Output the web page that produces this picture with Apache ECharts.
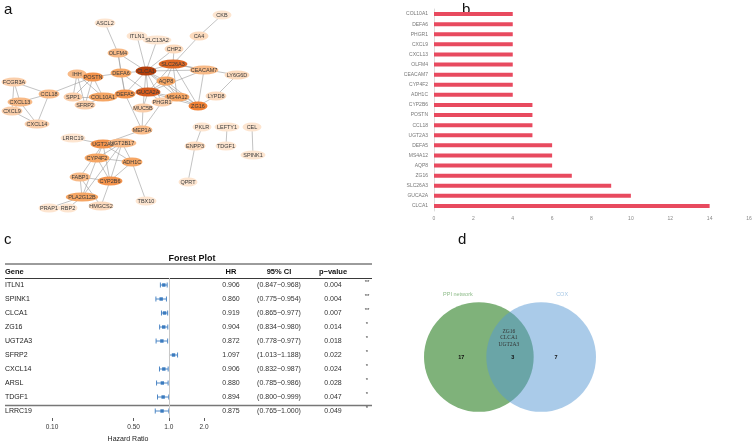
<!DOCTYPE html>
<html><head><meta charset="utf-8">
<script src="https://cdn.jsdelivr.net/npm/echarts@6/dist/echarts.min.js"></script>
<style>html,body{margin:0;padding:0;background:#fff}#c{width:755px;height:444px}</style>
</head><body><div id="c"></div>
<script>
// ---------- (a) PPI network ----------
var nodeNames = ['ASCL2','CKB','ITLN1','SLC13A2','CA4','CHP2','OLFM4','SLC26A3','CLCA1','CEACAM7','LY6G6D','IHH','POSTN','DEFA6','AQP8','FCGR3A','CCL18','DEFA5','GUCA2A','MS4A12','LYPD8','SPP1','COL10A1','PHGR1','ZG16','CXCL13','CXCL9','SFRP2','MUC5B','CXCL14','MEP1A','PKLR','LEFTY1','CEL','LRRC19','UGT2A3','UGT2B17','ENPP3','TDGF1','SPINK1','CYP4F2','ADH1C','FABP1','CYP2B6','QPRT','PLA2G12B','TBX10','PRAP1','RBP2','HMGCS2'];
var nodeX = [105,222,137,157,199,174,118,173,146,204,237,77,93,121,166,14,49,125,148,177,216,73,103,162,198,20,12,85,143,37,142,202,227,252,73,103,122,195,226,253,97,132,80,110,188,82,146,49,68,101];
var nodeY = [23,15,36,40,36,49,53,64,71,70,75,74,77,73,81,82,94,94,92,97,96,97,97,102,106,102,111,105,108,124,130,127,127,127,138,144,143,146,146,155,158,162,177,181,182,197,201,208,208,206];
var edgeFrom = ['ASCL2','CKB','CA4','ITLN1','SLC13A2','CHP2','CHP2','OLFM4','OLFM4','OLFM4','CLCA1','CLCA1','CLCA1','CLCA1','CLCA1','CLCA1','CLCA1','CLCA1','CLCA1','CLCA1','GUCA2A','GUCA2A','GUCA2A','GUCA2A','GUCA2A','GUCA2A','GUCA2A','GUCA2A','GUCA2A','SLC26A3','SLC26A3','SLC26A3','SLC26A3','SLC26A3','AQP8','AQP8','MS4A12','CEACAM7','ZG16','LYPD8','DEFA6','DEFA6','DEFA5','DEFA5','MUC5B','PHGR1','MEP1A','IHH','IHH','IHH','IHH','POSTN','POSTN','POSTN','POSTN','SPP1','SFRP2','FCGR3A','FCGR3A','FCGR3A','CXCL13','CXCL13','CXCL13','CXCL9','CCL18','LRRC19','UGT2A3','UGT2A3','UGT2A3','UGT2A3','UGT2B17','UGT2B17','UGT2B17','UGT2B17','CYP4F2','CYP4F2','CYP4F2','ADH1C','ADH1C','FABP1','FABP1','FABP1','CYP2B6','PLA2G12B','PLA2G12B','PKLR','ENPP3','LEFTY1','CEL'];
var edgeTo   = ['OLFM4','CA4','SLC26A3','CLCA1','CLCA1','SLC26A3','CLCA1','CLCA1','DEFA6','DEFA5','SLC26A3','DEFA6','GUCA2A','AQP8','MS4A12','ZG16','DEFA5','PHGR1','MUC5B','CEACAM7','SLC26A3','AQP8','MS4A12','ZG16','DEFA5','DEFA6','PHGR1','MUC5B','CEACAM7','AQP8','MS4A12','ZG16','CEACAM7','LY6G6D','ZG16','MS4A12','ZG16','ZG16','LYPD8','LY6G6D','DEFA5','POSTN','COL10A1','MEP1A','MEP1A','MEP1A','UGT2A3','POSTN','SPP1','SFRP2','COL10A1','SPP1','SFRP2','COL10A1','CCL18','COL10A1','COL10A1','CCL18','CXCL13','CXCL9','CCL18','CXCL9','CXCL14','CXCL14','CXCL14','UGT2A3','CYP4F2','FABP1','CYP2B6','ADH1C','CYP4F2','CYP2B6','ADH1C','PLA2G12B','ADH1C','CYP2B6','PLA2G12B','TBX10','CYP2B6','PLA2G12B','CYP2B6','HMGCS2','HMGCS2','RBP2','PRAP1','ENPP3','QPRT','TDGF1','SPINK1'];

// ---------- (b) degree bar chart ----------
var barGenes = ['COL10A1','DEFA6','PHGR1','CXCL9','CXCL13','OLFM4','CEACAM7','CYP4F2','ADH1C','CYP2B6','POSTN','CCL18','UGT2A3','DEFA5','MS4A12','AQP8','ZG16','SLC26A3','GUCA2A','CLCA1'];
var barValues = [4,4,4,4,4,4,4,4,4,5,5,5,5,6,6,6,7,9,10,14];

// ---------- (c) forest plot ----------
var forestGenes = ['ITLN1','SPINK1','CLCA1','ZG16','UGT2A3','SFRP2','CXCL14','ARSL','TDGF1','LRRC19'];
var forestHR = [0.906,0.860,0.919,0.904,0.872,1.097,0.906,0.880,0.894,0.875];
var forestLow = [0.847,0.775,0.865,0.834,0.778,1.013,0.832,0.785,0.800,0.765];
var forestHigh = [0.968,0.954,0.977,0.980,0.977,1.188,0.987,0.986,0.999,1.000];
var forestP = ['0.004','0.004','0.007','0.014','0.018','0.022','0.024','0.028','0.047','0.049'];
var forestStars = ['**','**','**','*','*','*','*','*','*','*'];
var forestTicks = [0.10,0.50,1.0,2.0];
var forestTickLabels = ['0.10','0.50','1.0','2.0'];

// ---------- (d) Venn ----------
var vennSets = ['PPI network','COX'];
var vennOnly = [17,7];
var vennShared = 3;
var vennSharedGenes = ['ZG16','CLCA1','UGT2A3'];

var FONT = 'Liberation Sans';

// degree-based node colour
var deg = {};
nodeNames.forEach(function(n){deg[n]=0;});
edgeFrom.forEach(function(f,i){deg[f]++;deg[edgeTo[i]]++;});
function lerp(a,b,t){return [0,1,2].map(function(k){return Math.round(a[k]+(b[k]-a[k])*t);});}
function degColor(d){
  var stops=[[1,[253,229,208]],[3,[250,206,170]],[5,[246,166,100]],[7,[240,128,52]],[10,[214,92,30]],[14,[180,62,10]]];
  for(var i=0;i<stops.length-1;i++){
    if(d<=stops[i+1][0]){var t=Math.max(0,(d-stops[i][0])/(stops[i+1][0]-stops[i][0]));var c=lerp(stops[i][1],stops[i+1][1],t);return 'rgb('+c.join(',')+')';}
  }
  return 'rgb(180,62,10)';
}
var graphNodes = nodeNames.map(function(n,i){
  return {name:n,value:[nodeX[i],nodeY[i]],symbolSize:[Math.max(19,3.8*n.length+2),9],itemStyle:{color:degColor(deg[n])}};
});
var graphLinks = edgeFrom.map(function(f,i){return {source:f,target:edgeTo[i]};});

var L10 = function(v){return Math.log(v)/Math.LN10;};
var forestData = forestGenes.map(function(g,i){return [L10(forestLow[i]),L10(forestHigh[i]),L10(forestHR[i]),i];});
var forestCI = forestLow.map(function(l,i){return '('+l.toFixed(3)+'\u2212'+forestHigh[i].toFixed(3)+')';});

var vennCircles = [[-0.568,0,1,'#7fb27a'],[0.568,0,1,'rgba(85,151,211,0.5)']];
var vennTexts = [
  [-0.89,0,String(vennOnly[0]),'bold','#111',FONT],
  [0.05,0,String(vennShared),'bold','#111',FONT],
  [0.84,0,String(vennOnly[1]),'bold','#111',FONT],
  [-0.95,-1.13,vennSets[0],'normal','#8dbb88',FONT],
  [0.95,-1.13,vennSets[1],'normal','#a6c8e6',FONT]
].concat(vennSharedGenes.map(function(g,i){return [-0.02,-0.47+i*0.12,g,'normal','#333','Liberation Serif'];}));

var letter = function(t,x,y){return {type:'text',left:x,top:y,style:{text:t,font:'15px '+FONT,fill:'#111'}};};
var FS = 7;

var option = {
  backgroundColor:'#fff',
  animation:false,
  textStyle:{fontFamily:FONT},
  title:[{text:'Forest Plot',left:187,top:249,textAlign:'center',textStyle:{fontSize:9,fontWeight:'bold',color:'#111',fontFamily:FONT}}],
  grid:[
    {left:0,top:0,width:260,height:215},
    {left:434,right:6,top:9,height:202},
    {left:52,top:278,width:152,height:141.7},
    {left:424,top:291,width:172,height:121}
  ],
  xAxis:[
    {gridIndex:0,type:'value',min:0,max:260,show:false},
    {gridIndex:1,type:'value',min:0,max:16,interval:2,axisLine:{show:false},axisTick:{show:false},splitLine:{show:false},
      axisLabel:{fontSize:5,color:'#888',margin:5}},
    {gridIndex:2,type:'value',min:-1,max:L10(2),axisLine:{lineStyle:{color:'#333',width:0.8}},
      axisTick:{show:true,length:3,lineStyle:{color:'#333',width:0.8},customValues:forestTicks.map(L10)},
      axisLabel:{fontSize:6.5,color:'#333',margin:6,customValues:forestTicks.map(L10),formatter:function(v){var i=forestTicks.map(L10).findIndex(function(t){return Math.abs(t-v)<1e-6;});return i>=0?forestTickLabels[i]:'';}},
      splitLine:{show:false},name:'Hazard Ratio',nameLocation:'middle',nameGap:18,nameTextStyle:{fontSize:7,color:'#222'}},
    {gridIndex:3,type:'value',min:-1.568,max:1.568,show:false}
  ],
  yAxis:[
    {gridIndex:0,type:'value',min:0,max:215,inverse:true,show:false},
    {gridIndex:1,type:'category',data:barGenes,inverse:true,axisLine:{lineStyle:{color:'#ddd'}},axisTick:{show:false},
      axisLabel:{fontSize:5,color:'#777',margin:6}},
    {gridIndex:2,type:'category',data:forestGenes,inverse:true,axisLine:{show:false},axisTick:{show:false},
      axisLabel:{fontSize:FS,color:'#222',margin:47,align:'left'}},
    {gridIndex:2,type:'category',data:forestHR.map(function(v){return v.toFixed(3);}),inverse:true,position:'right',axisLine:{show:false},axisTick:{show:false},axisLabel:{fontSize:FS,color:'#333',margin:27,align:'center'}},
    {gridIndex:2,type:'category',data:forestCI,inverse:true,position:'right',axisLine:{show:false},axisTick:{show:false},axisLabel:{fontSize:FS,color:'#333',margin:75,align:'center'}},
    {gridIndex:2,type:'category',data:forestP,inverse:true,position:'right',axisLine:{show:false},axisTick:{show:false},axisLabel:{fontSize:FS,color:'#333',margin:129,align:'center'}},
    {gridIndex:2,type:'category',data:forestStars,inverse:true,position:'right',axisLine:{show:false},axisTick:{show:false},axisLabel:{fontSize:6,color:'#333',margin:163,align:'center',verticalAlign:'bottom'}},
    {gridIndex:3,type:'value',min:-1.2,max:1,inverse:true,show:false}
  ],
  series:[
    {type:'graph',coordinateSystem:'cartesian2d',xAxisIndex:0,yAxisIndex:0,layout:'none',z:3,
      data:graphNodes,links:graphLinks,symbol:'circle',
      label:{show:true,position:'inside',fontSize:5.5,color:'#3a3a3a',fontFamily:FONT},
      lineStyle:{color:'#9a9a9a',width:0.6,opacity:1,curveness:0},
      emphasis:{disabled:true}},
    {type:'bar',xAxisIndex:1,yAxisIndex:1,data:barValues,barWidth:4,itemStyle:{color:'#e84a5f'}},
    {type:'custom',xAxisIndex:2,yAxisIndex:2,data:forestData,
      renderItem:function(params,api){
        var lo=api.coord([api.value(0),api.value(3)]);
        var hi=api.coord([api.value(1),api.value(3)]);
        var pt=api.coord([api.value(2),api.value(3)]);
        var c='#3b7bbf';
        return {type:'group',children:[
          {type:'line',shape:{x1:lo[0],y1:lo[1],x2:hi[0],y2:hi[1]},style:{stroke:c,lineWidth:0.9}},
          {type:'line',shape:{x1:lo[0],y1:lo[1]-2.5,x2:lo[0],y2:lo[1]+2.5},style:{stroke:c,lineWidth:0.9}},
          {type:'line',shape:{x1:hi[0],y1:hi[1]-2.5,x2:hi[0],y2:hi[1]+2.5},style:{stroke:c,lineWidth:0.9}},
          {type:'rect',shape:{x:pt[0]-1.7,y:pt[1]-1.7,width:3.4,height:3.4},style:{fill:c}}
        ]};
      },
      markLine:{silent:true,symbol:'none',label:{show:false},lineStyle:{color:'#c8c8c8',width:1,type:'solid'},data:[{xAxis:0}]},
      z:3},
    {type:'custom',xAxisIndex:3,yAxisIndex:7,data:vennCircles,
      renderItem:function(params,api){
        var c=api.coord([api.value(0),api.value(1)]);
        var r=api.size([api.value(2),0])[0];
        return {type:'circle',shape:{cx:c[0],cy:c[1],r:r},style:{fill:vennCircles[params.dataIndex][3]}};
      }},
    {type:'custom',xAxisIndex:3,yAxisIndex:7,data:vennTexts,z:5,
      renderItem:function(params,api){
        var d=vennTexts[params.dataIndex];
        var c=api.coord([d[0],d[1]]);
        return {type:'text',x:c[0],y:c[1],style:{text:d[2],fontSize:5.5,fontWeight:d[3],fill:d[4],fontFamily:d[5],align:'center',verticalAlign:'middle'}};
      }}
  ],
  graphic:[
    letter('a',4,2),letter('b',462,2),letter('c',4,232),letter('d',458,232),
    {type:'line',shape:{x1:5,y1:264,x2:372,y2:264},style:{stroke:'#222',lineWidth:0.9}},
    {type:'line',shape:{x1:5,y1:278.5,x2:372,y2:278.5},style:{stroke:'#222',lineWidth:0.9}},
    {type:'line',shape:{x1:5,y1:405.5,x2:372,y2:405.5},style:{stroke:'#777',lineWidth:1.6}},
    {type:'text',x:5,y:271.5,style:{text:'Gene',font:'bold 7.5px '+FONT,fill:'#111',align:'left',verticalAlign:'middle'}},
    {type:'text',x:231,y:271.5,style:{text:'HR',font:'bold 7.5px '+FONT,fill:'#111',align:'center',verticalAlign:'middle'}},
    {type:'text',x:279,y:271.5,style:{text:'95% CI',font:'bold 7.5px '+FONT,fill:'#111',align:'center',verticalAlign:'middle'}},
    {type:'text',x:333,y:271.5,style:{text:'p\u2212value',font:'bold 7.5px '+FONT,fill:'#111',align:'center',verticalAlign:'middle'}}
  ]
};
var chart = echarts.init(document.getElementById('c'),null,{renderer:'canvas'});
chart.setOption(option);
</script></body></html>
